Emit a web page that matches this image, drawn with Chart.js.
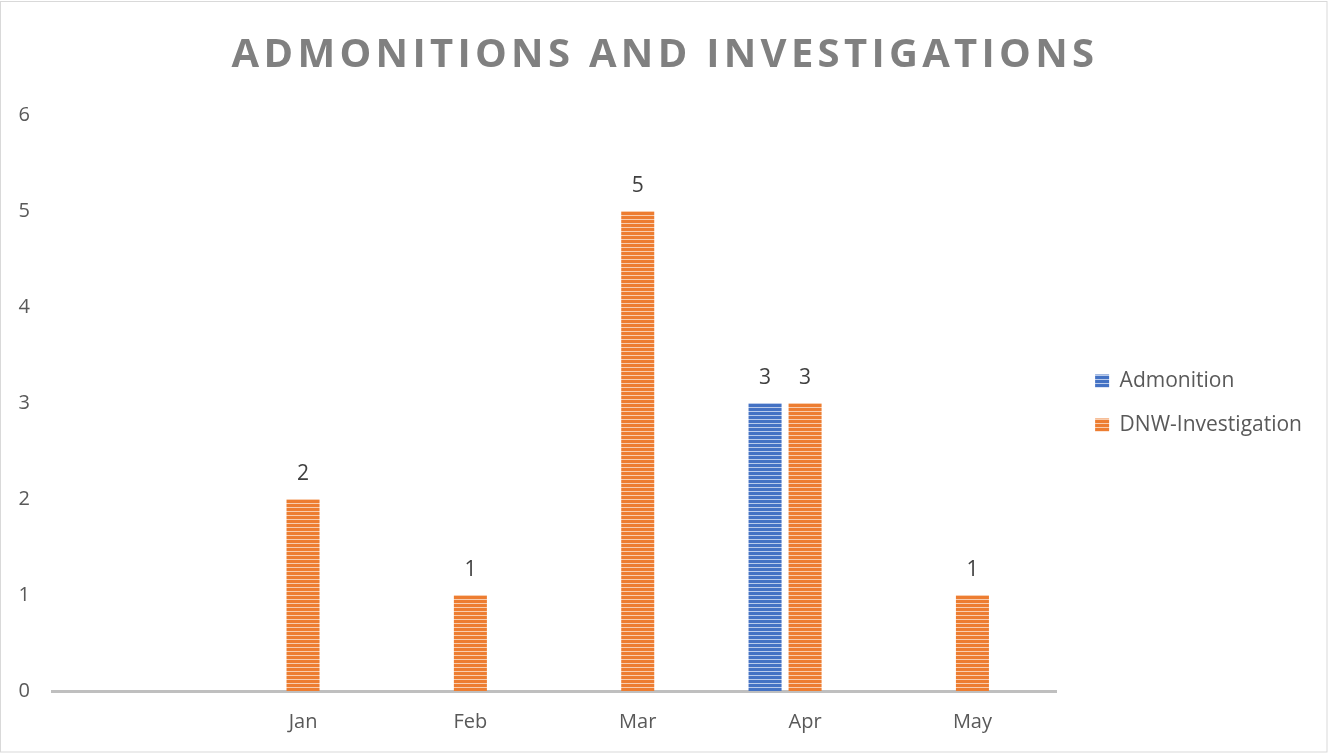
<!DOCTYPE html>
<html>
<head>
<meta charset="utf-8">
<title>Admonitions and Investigations</title>
<script src="https://cdn.jsdelivr.net/npm/chart.js@4.4.1/dist/chart.umd.min.js"></script>
<style>
  html, body { margin: 0; padding: 0; background: #ffffff; }
  #wrap { width: 1328px; height: 753px; position: relative; }
</style>
</head>
<body>
<div id="wrap"><canvas id="chart"></canvas></div>
<script>
// Data
const chartTitle = 'ADMONITIONS AND INVESTIGATIONS';
const categories = ['', 'Jan', 'Feb', 'Mar', 'Apr', 'May'];
const admonitionValues = [null, null, null, null, 3, null];
const investigationValues = [null, 2, 1, 5, 3, 1];
const emptySeriesValues = [null, null, null, null, null, null]; // third series, no values shown
const yTicks = [0, 1, 2, 3, 4, 5, 6];

const textGrey = '#595959';
const fontFamily = '"Open Sans", "Noto Sans", sans-serif';

// horizontal stripe fill, like the Excel pattern
function stripes(base, light) {
    const tile = document.createElement('canvas');
    tile.width = 4;
    tile.height = 4;
    const t = tile.getContext('2d');
    t.fillStyle = base;
    t.fillRect(0, 0, 4, 4);
    t.fillStyle = light;
    t.fillRect(0, 3, 4, 1);
    return t.createPattern(tile, 'repeat');
}

// values above the bars
const valueLabels = {
    id: 'valueLabels',
    afterDatasetsDraw(chart) {
        const c = chart.ctx;
        c.save();
        c.font = '21px ' + fontFamily;
        c.fillStyle = '#404040';
        c.textAlign = 'center';
        c.textBaseline = 'middle';
        chart.data.datasets.forEach((ds, i) => {
            const meta = chart.getDatasetMeta(i);
            meta.data.forEach((bar, j) => {
                const v = ds.data[j];
                if (v === null || v === undefined) return;
                c.fillText(String(v), bar.x, bar.y - 25);
            });
        });
        c.restore();
    }
};

// spaced title and the thin frame round the chart
const frameAndTitle = {
    id: 'frameAndTitle',
    beforeDraw(chart) {
        const c = chart.ctx;
        c.save();
        c.strokeStyle = '#D9D9D9';
        c.lineWidth = 1;
        c.strokeRect(0.5, 1.5, chart.width - 1.5, chart.height - 2.5);
        c.restore();
    },
    afterDraw(chart) {
        const c = chart.ctx;
        c.save();
        c.font = 'bold 40px ' + fontFamily;
        c.letterSpacing = '4.3px';
        c.fillStyle = '#808080';
        c.textAlign = 'center';
        c.textBaseline = 'middle';
        c.fillText(chartTitle, chart.width / 2 + 1, 56);
        c.restore();
    }
};

function drawChart() {
    const ctx = document.getElementById('chart').getContext('2d');
    const bluePattern = stripes('#4472C4', '#BACBEB');
    const orangePattern = stripes('#ED7D31', '#F9CDAE');

    new Chart(ctx, {
        type: 'bar',
        data: {
            labels: categories,
            datasets: [{
                label: 'Admonition',
                data: admonitionValues,
                backgroundColor: bluePattern,
                borderWidth: 0
            }, {
                label: 'DNW-Investigation',
                data: investigationValues,
                backgroundColor: orangePattern,
                borderWidth: 0
            }, {
                label: 'Series3',
                data: emptySeriesValues,
                backgroundColor: '#A5A5A5',
                borderWidth: 0
            }]
        },
        options: {
            responsive: true,
            maintainAspectRatio: false,
            animation: false,
            categoryPercentage: 0.7175,
            barPercentage: 0.825,
            layout: {
                padding: { top: 115, left: 0, right: 16, bottom: 0 }
            },
            plugins: {
                title: { display: false },
                tooltip: { enabled: false },
                legend: {
                    position: 'right',
                    fullSize: false,
                    maxWidth: 400,
                    labels: {
                        filter: item => item.text !== 'Series3',
                        boxWidth: 14,
                        boxHeight: 13,
                        padding: 23,
                        color: textGrey,
                        font: { family: fontFamily, size: 21 }
                    }
                }
            },
            scales: {
                x: {
                    grid: { display: false, drawTicks: false },
                    border: { display: true, color: '#BFBFBF', width: 3 },
                    ticks: {
                        color: textGrey,
                        padding: 19,
                        font: { family: fontFamily, size: 20 }
                    }
                },
                y: {
                    min: yTicks[0],
                    max: yTicks[yTicks.length - 1],
                    grid: { display: false, drawTicks: false },
                    border: { display: false },
                    afterBuildTicks: scale => {
                        scale.ticks = yTicks.map(v => ({ value: v }));
                    },
                    afterFit: scale => { scale.width = 52; },
                    ticks: {
                        color: textGrey,
                        padding: 22,
                        font: { family: fontFamily, size: 20 }
                    }
                },
                gap: {
                    // empty space between plot and legend
                    position: 'right',
                    display: true,
                    grid: { display: false },
                    border: { display: false },
                    ticks: { display: false },
                    afterFit: scale => { scale.width = 16; }
                }
            }
        },
        plugins: [valueLabels, frameAndTitle]
    });
}

Promise.all([
    document.fonts.load('20px "Open Sans"'),
    document.fonts.load('21px "Open Sans"'),
    document.fonts.load('bold 40px "Open Sans"')
]).then(drawChart, drawChart);
</script>
</body>
</html>
